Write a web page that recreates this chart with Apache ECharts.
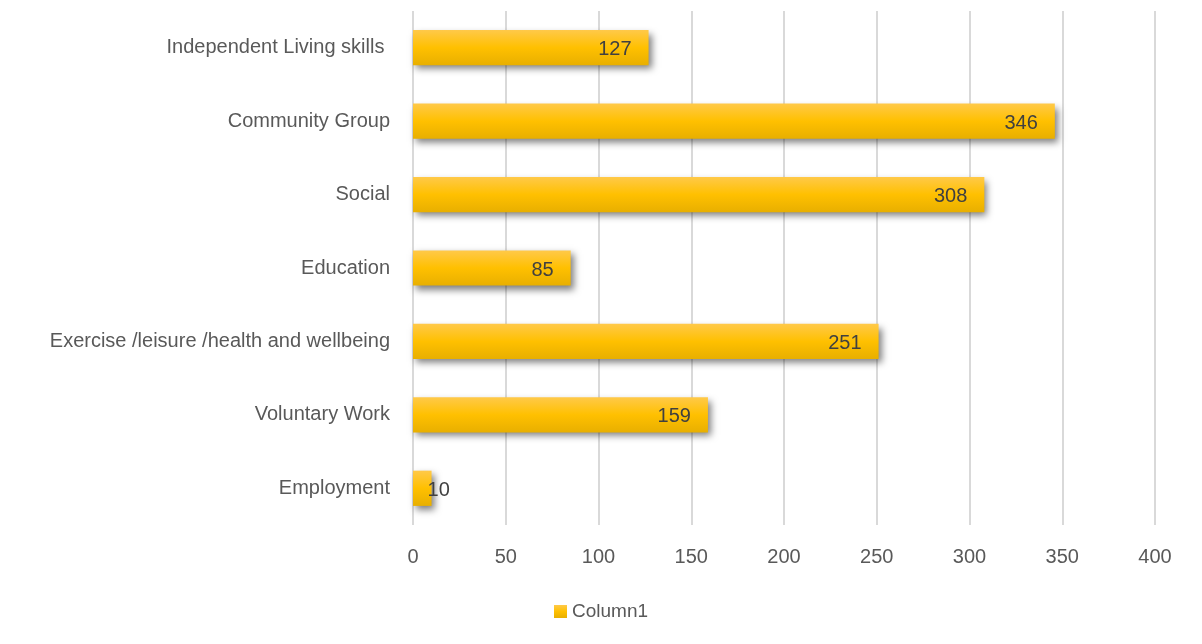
<!DOCTYPE html>
<html>
<head>
<meta charset="utf-8">
<script src="https://cdn.jsdelivr.net/npm/echarts@6/dist/echarts.min.js"></script>
<style>
html,body{margin:0;padding:0;background:#fff;}
#c{width:1202px;height:644px;}
</style>
</head>
<body>
<div id="c"></div>
<script>
const categories = ['Employment', 'Voluntary Work', 'Exercise /leisure /health and wellbeing', 'Education', 'Social', 'Community Group', 'Independent Living skills '];
const values = [10, 159, 251, 85, 308, 346, 127];
const xTicks = { min: 0, max: 400, interval: 50 };
const seriesName = 'Column1';

const font = 'Liberation Sans, Arial, sans-serif';
const grad = new echarts.graphic.LinearGradient(0, 0, 0, 1, [
  { offset: 0, color: '#FFC949' },
  { offset: 0.5, color: '#FFC000' },
  { offset: 1, color: '#E8AF00' }
]);

const chart = echarts.init(document.getElementById('c'));
chart.setOption({
  animation: false,
  textStyle: { fontFamily: font },
  grid: { left: 413, right: 47, top: 11, bottom: 119, containLabel: false },
  legend: {
    bottom: 18, left: 'center',
    itemWidth: 13, itemHeight: 13, itemGap: 6,
    icon: 'rect',
    textStyle: { color: '#595959', fontSize: 19, fontFamily: font },
    data: [{ name: seriesName, itemStyle: { color: grad } }]
  },
  xAxis: {
    type: 'value', min: xTicks.min, max: xTicks.max, interval: xTicks.interval,
    axisLine: { show: false }, axisTick: { show: false },
    splitLine: { lineStyle: { color: '#D9D9D9', width: 2 } },
    axisLabel: { color: '#595959', fontSize: 20, margin: 22, fontFamily: font }
  },
  yAxis: {
    type: 'category', data: categories,
    axisLine: { show: false }, axisTick: { show: false },
    axisLabel: { color: '#595959', fontSize: 20, margin: 23, fontFamily: font, padding: [5, 0, 0, 0] }
  },
  series: [{
    name: seriesName, type: 'bar', barWidth: '48%',
    data: values.map(v => v < 30 ? { value: v, label: { position: 'right', distance: -4 } } : v),
    itemStyle: {
      color: grad,
      shadowColor: 'rgba(0,0,0,0.5)', shadowBlur: 7, shadowOffsetX: 3, shadowOffsetY: 4
    },
    label: {
      show: true, position: 'insideRight', distance: 17, offset: [0, 2],
      color: '#404040', fontSize: 20, fontFamily: font
    }
  }]
});
</script>
</body>
</html>
